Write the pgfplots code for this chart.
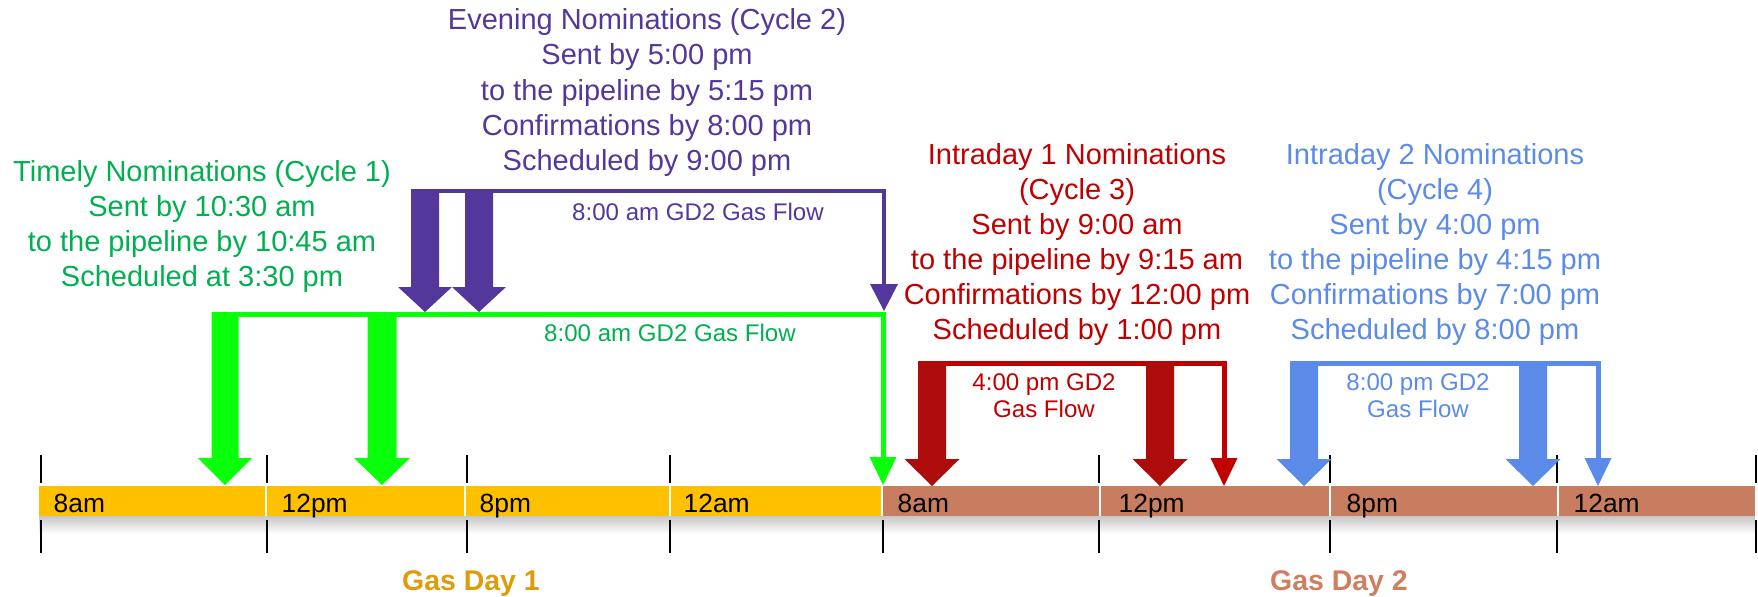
\documentclass[border=0pt]{standalone}
\usepackage{pgfplots}
\pgfplotsset{compat=1.18}
\usepackage{fontspec}
\setmainfont{Liberation Sans}
\definecolor{gArrow}{HTML}{0AFF0A}
\definecolor{gText}{HTML}{00B050}
\definecolor{pC}{HTML}{54379B}
\definecolor{rDark}{HTML}{AE0B0B}
\definecolor{rC}{HTML}{C00000}
\definecolor{bC}{HTML}{5B8BE9}
\definecolor{goldBar}{HTML}{FFC000}
\definecolor{brownBar}{HTML}{C97D60}
\definecolor{gd1}{HTML}{DE9B0A}
\definecolor{gd2}{HTML}{CD8060}
\newcommand\bigfont{\fontsize{8.25}{10.0}\selectfont}
\newcommand\smfont{\fontsize{6.85}{7.7}\selectfont}
\newcommand\lblfont{\fontsize{7.5}{8.5}\selectfont}
\begin{document}
\begin{tikzpicture}
\begin{axis}[
  width=17.58cm, height=5.96cm, scale only axis,
  xmin=0, xmax=1758, ymin=0, ymax=596,
  hide axis, clip=false,
]
\addplot[draw=none, mark=none] coordinates {(0,0) (1758,596)};
% shadow under bar
\addplot[draw=none, top color=black!22, bottom color=white] coordinates {(39,62) (1755,62) (1755,80) (39,80)} --cycle;
% bar segments
\addplot[fill=goldBar, draw=none] coordinates {(39,80) (265,80) (265,110) (39,110)} --cycle;
\addplot[fill=goldBar, draw=none] coordinates {(267,80) (464,80) (464,110) (267,110)} --cycle;
\addplot[fill=goldBar, draw=none] coordinates {(466,80) (669,80) (669,110) (466,110)} --cycle;
\addplot[fill=goldBar, draw=none] coordinates {(671,80) (881,80) (881,110) (671,110)} --cycle;
\addplot[fill=brownBar, draw=none] coordinates {(883,80) (1099,80) (1099,110) (883,110)} --cycle;
\addplot[fill=brownBar, draw=none] coordinates {(1101,80) (1329,80) (1329,110) (1101,110)} --cycle;
\addplot[fill=brownBar, draw=none] coordinates {(1331,80) (1557,80) (1557,110) (1331,110)} --cycle;
\addplot[fill=brownBar, draw=none] coordinates {(1559,80) (1755,80) (1755,110) (1559,110)} --cycle;
% ticks
\foreach \t in {41,267,467,670,883,1099,1330,1557,1756}{
  \edef\tmp{\noexpand\addplot[black, line width=0.25mm] coordinates {(\t,141) (\t,113)};
  \noexpand\addplot[black, line width=0.25mm] coordinates {(\t,76) (\t,43)};}
  \tmp
}
% segment labels
\node[anchor=base west, inner sep=0pt, font=\lblfont] at (axis cs:53,84) {8am};
\node[anchor=base west, inner sep=0pt, font=\lblfont] at (axis cs:281,84) {12pm};
\node[anchor=base west, inner sep=0pt, font=\lblfont] at (axis cs:479,84) {8pm};
\node[anchor=base west, inner sep=0pt, font=\lblfont] at (axis cs:683,84) {12am};
\node[anchor=base west, inner sep=0pt, font=\lblfont] at (axis cs:897,84) {8am};
\node[anchor=base west, inner sep=0pt, font=\lblfont] at (axis cs:1118,84) {12pm};
\node[anchor=base west, inner sep=0pt, font=\lblfont] at (axis cs:1346,84) {8pm};
\node[anchor=base west, inner sep=0pt, font=\lblfont] at (axis cs:1573,84) {12am};
\node[anchor=base, inner sep=0pt, font=\fontsize{8.1}{9}\selectfont\bfseries, text=gd1] at (axis cs:471,6) {Gas Day 1};
\node[anchor=base, inner sep=0pt, font=\fontsize{8.1}{9}\selectfont\bfseries, text=gd2] at (axis cs:1339,6) {Gas Day 2};
% green cycle
\addplot[gArrow, line width=0.5mm] coordinates {(212,282) (883,282) (883,139)};
\addplot[fill=gArrow, draw=none] coordinates {(869.5,139) (896.5,139) (883,111)} --cycle;
\addplot[fill=gArrow, draw=none] coordinates {(211.5,284) (238.5,284) (238.5,138) (252,138) (225,111) (198,138) (211.5,138)} --cycle;
\addplot[fill=gArrow, draw=none] coordinates {(367.5,284) (396.5,284) (396.5,138) (410,138) (382,111) (354,138) (367.5,138)} --cycle;
% purple cycle
\addplot[pC, line width=0.4mm] coordinates {(425,405) (884,405) (884,311)};
\addplot[fill=pC, draw=none] coordinates {(870,312) (898,312) (884,285)} --cycle;
\addplot[fill=pC, draw=none] coordinates {(411,407) (439,407) (439,309) (452,309) (425,284) (398,309) (411,309)} --cycle;
\addplot[fill=pC, draw=none] coordinates {(465,407) (493,407) (493,309) (506,309) (479,284) (452,309) (465,309)} --cycle;
% red cycle
\addplot[rC, line width=0.5mm] coordinates {(918,233) (1224,233) (1224,138)};
\addplot[fill=rC, draw=none] coordinates {(1210.5,138) (1237.5,138) (1224,110)} --cycle;
\addplot[fill=rDark, draw=none] coordinates {(918,235) (946,235) (946,137) (959.5,137) (932,110) (904.5,137) (918,137)} --cycle;
\addplot[fill=rDark, draw=none] coordinates {(1146,235) (1174,235) (1174,137) (1187.5,137) (1160,110) (1132.5,137) (1146,137)} --cycle;
% blue cycle
\addplot[bC, line width=0.5mm] coordinates {(1291,233) (1598,233) (1598,138)};
\addplot[fill=bC, draw=none] coordinates {(1584.5,138) (1611.5,138) (1598,110)} --cycle;
\addplot[fill=bC, draw=none] coordinates {(1290,235) (1318,235) (1318,137) (1331.5,137) (1304,110) (1276.5,137) (1290,137)} --cycle;
\addplot[fill=bC, draw=none] coordinates {(1519,235) (1547,235) (1547,137) (1560.5,137) (1533,110) (1505.5,137) (1519,137)} --cycle;
% texts
\node[align=center, inner sep=0pt, font=\bigfont, text=gText] at (axis cs:202,369.5) {Timely Nominations (Cycle 1)\\Sent by 10:30 am\\to the pipeline by 10:45 am\\Scheduled at 3:30 pm};
\node[align=center, inner sep=0pt, font=\bigfont, text=pC] at (axis cs:647,503.5) {Evening Nominations (Cycle 2)\\Sent by 5:00 pm\\to the pipeline by 5:15 pm\\Confirmations by 8:00 pm\\Scheduled by 9:00 pm};
\node[align=center, inner sep=0pt, font=\bigfont, text=rC] at (axis cs:1077,351.5) {Intraday 1 Nominations\\(Cycle 3)\\Sent by 9:00 am\\to the pipeline by 9:15 am\\Confirmations by 12:00 pm\\Scheduled by 1:00 pm};
\node[align=center, inner sep=0pt, font=\bigfont, text=bC] at (axis cs:1435,351.5) {Intraday 2 Nominations\\(Cycle 4)\\Sent by 4:00 pm\\to the pipeline by 4:15 pm\\Confirmations by 7:00 pm\\Scheduled by 8:00 pm};
\node[inner sep=0pt, font=\smfont, text=pC] at (axis cs:698,384) {8:00 am GD2 Gas Flow};
\node[inner sep=0pt, font=\smfont, text=gText] at (axis cs:670,263) {8:00 am GD2 Gas Flow};
\node[align=center, inner sep=0pt, font=\smfont, text=rC] at (axis cs:1044,200.5) {4:00 pm GD2\\Gas Flow};
\node[align=center, inner sep=0pt, font=\smfont, text=bC] at (axis cs:1418,200.5) {8:00 pm GD2\\Gas Flow};
\end{axis}
\pgfresetboundingbox
\useasboundingbox (current axis.south west) rectangle (current axis.north east);
\end{tikzpicture}
\end{document}
